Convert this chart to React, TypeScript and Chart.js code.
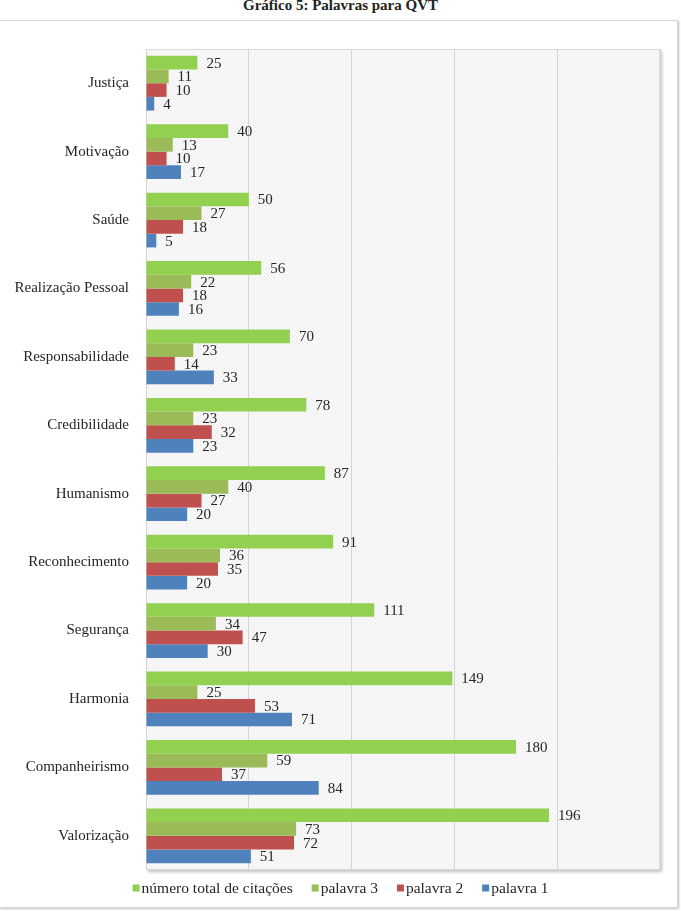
import React, { useEffect, useRef } from "react";
import { Chart, registerables } from "chart.js";

Chart.register(...registerables);

const categories = [
  "Justiça",
  "Motivação",
  "Saúde",
  "Realização Pessoal",
  "Responsabilidade",
  "Credibilidade",
  "Humanismo",
  "Reconhecimento",
  "Segurança",
  "Harmonia",
  "Companheirismo",
  "Valorização",
];
const totalCitacoes = [25, 40, 50, 56, 70, 78, 87, 91, 111, 149, 180, 196];
const palavra3 = [11, 13, 27, 22, 23, 23, 40, 36, 34, 25, 59, 73];
const palavra2 = [10, 10, 18, 18, 14, 32, 27, 35, 47, 53, 37, 72];
const palavra1 = [4, 17, 5, 16, 33, 23, 20, 20, 30, 71, 84, 51];
const seriesNames = ["número total de citações", "palavra 3", "palavra 2", "palavra 1"];
const seriesColors = ["#92D050", "#9BBB59", "#C0504D", "#4F81BD"];
const xMin = 0;
const xMax = 250;
const xStep = 50;
const titleText = "Gráfico 5: Palavras para QVT";

const FONT = "'Liberation Serif', 'Times New Roman', serif";

function makePattern(ctx: CanvasRenderingContext2D) {
  const c = document.createElement("canvas");
  const s = 4;
  c.width = s;
  c.height = s;
  const p = c.getContext("2d")!;
  p.fillStyle = "#f9f9f9";
  p.fillRect(0, 0, s, s);
  p.strokeStyle = "#ececec";
  p.lineWidth = 1;
  p.beginPath();
  p.moveTo(-1, -1);
  p.lineTo(s + 1, s + 1);
  p.moveTo(-1, s - 1);
  p.lineTo(1, s + 1);
  p.moveTo(s - 1, -1);
  p.lineTo(s + 1, 1);
  p.stroke();
  return ctx.createPattern(c, "repeat");
}

const plotBgPlugin = {
  id: "plotBg",
  beforeDraw(chart: any) {
    const { ctx, chartArea } = chart;
    const { left, top, right, bottom } = chartArea;
    ctx.save();
    ctx.shadowColor = "rgba(0,0,0,0.25)";
    ctx.shadowBlur = 3;
    ctx.shadowOffsetX = 2;
    ctx.shadowOffsetY = 2;
    ctx.fillStyle = "#f6f6f6";
    ctx.fillRect(left, top, right - left, bottom - top);
    ctx.restore();
    ctx.save();
    ctx.fillStyle = makePattern(ctx) || "#f4f4f4";
    ctx.fillRect(left, top, right - left, bottom - top);
    ctx.strokeStyle = "#dcdcdc";
    ctx.lineWidth = 1;
    ctx.strokeRect(left + 0.5, top + 0.5, right - left - 1, bottom - top - 1);
    ctx.restore();
  },
};

const valueLabelPlugin = {
  id: "valueLabels",
  afterDatasetsDraw(chart: any) {
    const { ctx } = chart;
    ctx.save();
    ctx.font = `15px ${FONT}`;
    ctx.fillStyle = "#262626";
    ctx.textAlign = "left";
    ctx.textBaseline = "middle";
    chart.data.datasets.forEach((ds: any, i: number) => {
      const meta = chart.getDatasetMeta(i);
      meta.data.forEach((bar: any, j: number) => {
        ctx.fillText(String(ds.data[j]), bar.x + 9, bar.y + 1);
      });
    });
    ctx.restore();
  },
};

const customLegendPlugin = {
  id: "customLegend",
  afterDraw(chart: any) {
    const { ctx } = chart;
    const ds = chart.data.datasets;
    ctx.save();
    ctx.font = `15.5px ${FONT}`;
    const box = 7;
    const gap = 2;
    const spacing = 19;
    const widths = ds.map((d: any) => box + gap + ctx.measureText(d.label).width);
    const total = widths.reduce((a: number, b: number) => a + b, 0) + spacing * (ds.length - 1);
    let x = 340.5 - total / 2;
    const y = 888;
    ds.forEach((d: any, i: number) => {
      ctx.fillStyle = d.backgroundColor;
      ctx.fillRect(x, y - box / 2, box, box);
      ctx.fillStyle = "#262626";
      ctx.textAlign = "left";
      ctx.textBaseline = "middle";
      ctx.fillText(d.label, x + box + gap, y + 1);
      x += widths[i] + spacing;
    });
    ctx.restore();
  },
};

export default function App() {
  const canvasRef = useRef<HTMLCanvasElement | null>(null);

  useEffect(() => {
    const canvas = canvasRef.current;
    if (!canvas) return;
    const seriesData = [totalCitacoes, palavra3, palavra2, palavra1];
    const chart = new Chart(canvas, {
      type: "bar",
      data: {
        labels: categories,
        datasets: seriesNames.map((name, i) => ({
          label: name,
          data: seriesData[i],
          backgroundColor: seriesColors[i],
          borderWidth: 0,
          categoryPercentage: 0.8,
          barPercentage: 1.0,
        })),
      },
      options: {
        indexAxis: "y",
        responsive: false,
        animation: false,
        devicePixelRatio: 1,
        layout: { padding: { top: 49, right: 21, bottom: 41, left: 0 } },
        plugins: {
          legend: { display: false },
          tooltip: { enabled: false },
          title: { display: false },
        },
        scales: {
          x: {
            type: "linear",
            min: xMin,
            max: xMax,
            ticks: { display: false, stepSize: xStep },
            grid: { color: "#d4d4d4", drawTicks: false, lineWidth: 1 },
            border: { display: false },
            afterFit: (s: any) => {
              s.height = 0;
            },
          },
          y: {
            type: "category",
            ticks: {
              font: { family: FONT, size: 15 },
              color: "#262626",
              padding: 17,
            },
            grid: { display: false, drawTicks: false },
            border: { display: false },
            afterFit: (s: any) => {
              s.width = 146;
            },
          },
        },
      },
      plugins: [plotBgPlugin, valueLabelPlugin, customLegendPlugin],
    } as any);
    return () => chart.destroy();
  }, []);

  return (
    <div style={{ position: "absolute", left: 0, top: 0, width: 681, height: 911, background: "#fff", overflow: "hidden" }}>
      <div
        style={{
          position: "absolute",
          left: 0,
          top: -3,
          width: 681,
          textAlign: "center",
          fontFamily: FONT,
          fontWeight: "bold",
          fontSize: 15,
          color: "#222",
          whiteSpace: "nowrap",
        }}
      >
        {titleText}
      </div>
      <div
        style={{
          position: "absolute",
          left: -1,
          top: 20,
          width: 677,
          height: 886,
          border: "1px solid #d6d6d6",
          boxShadow: "1px 1px 2px rgba(0,0,0,0.25)",
        }}
      />
      <canvas ref={canvasRef} width={681} height={911} style={{ position: "absolute", left: 0, top: 0, width: 681, height: 911 }} />
    </div>
  );
}
